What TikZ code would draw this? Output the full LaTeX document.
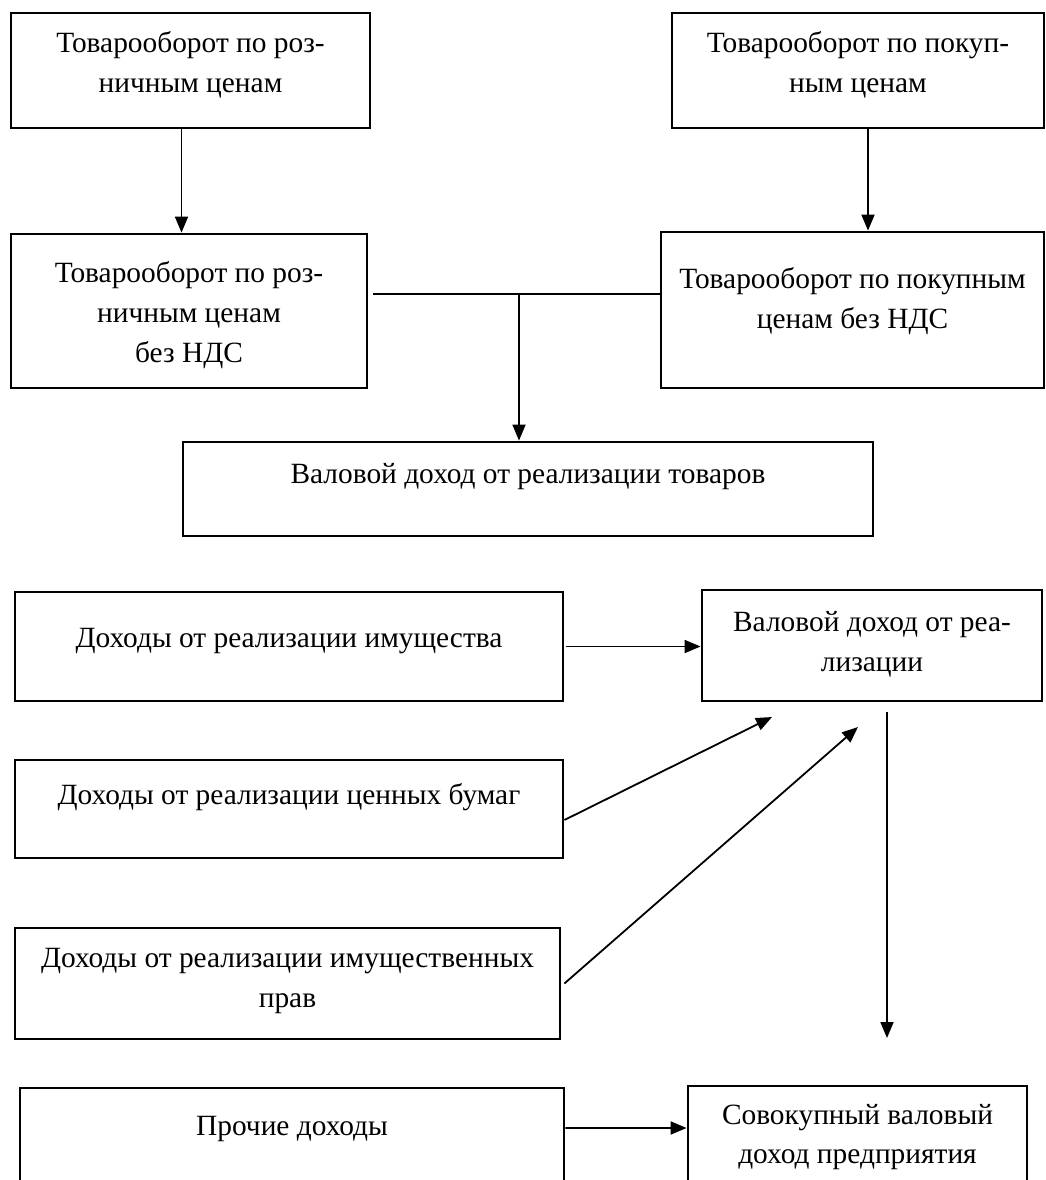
\documentclass[tikz,border=0pt]{standalone}
\usepackage{fontspec}
\setmainfont{Liberation Serif}
\usetikzlibrary{arrows.meta}
\tikzset{
  box/.style={draw=black,line width=2.8bp,inner sep=0bp},
  boxtext/.style={font=\fontsize{29.5}{40}\selectfont,align=center,inner sep=0bp},
  link/.style={draw=black,line width=1.8bp},
  arr/.style={link,-{Triangle[length=16bp,width=13bp]}},
}
% name, left, top, right, bottom, text y, text
\newcommand{\figbox}[7]{
  \node[box,minimum width={(#4-#2)*1bp},minimum height={(#5-#3)*1bp}]
    (#1) at ({(#2+#4)/2},{(#3+#5)/2}) {};
  \node[boxtext] (#1-t) at ({(#2+#4)/2},#6+3) {#7};
}

\begin{document}
\begin{tikzpicture}[x=1bp,y=-1bp]
  \useasboundingbox (0,0) rectangle (1046,1180);
  \fill[white] (0,0) rectangle (1046,1180);

  % turnover and gross income from goods
  \figbox{retail}{11}{13}{370}{128}{62}{Товарооборот по роз-\\ничным ценам}
  \figbox{purchase}{672}{13}{1044}{128}{62}{Товарооборот по покуп-\\ным ценам}
  \figbox{retailnet}{11}{234}{367}{388}{312}{Товарооборот по роз-\\ничным ценам\\без НДС}
  \figbox{purchasenet}{661}{232}{1044}{388}{298}{Товарооборот по покупным\\ценам без НДС}
  \figbox{goods}{183}{442}{873}{536}{474}{Валовой доход от реализации товаров}

  \draw[arr] ([xshift=-9bp]retail.south) -- ([xshift=-9bp]retail.south |- retailnet.north);
  \draw[arr] ([xshift=10bp]purchase.south) -- ([xshift=10bp]purchase.south |- purchasenet.north);
  \coordinate (joinl) at (373,294);
  \coordinate (join) at (519,294);
  \draw[link] (joinl) -- (joinl -| purchasenet.west);
  \draw[arr] (join) -- (join |- goods.north);

  % income sources
  \figbox{property}{15}{592}{563}{701}{638}{Доходы от реализации имущества}
  \figbox{sales}{702}{590}{1042}{701}{641}{Валовой доход от реа-\\лизации}
  \figbox{securities}{15}{760}{563}{858}{794}{Доходы от реализации ценных бумаг}
  \figbox{rights}{15}{928}{560}{1039}{978}{Доходы от реализации имущественных\\прав}
  \figbox{other}{20}{1088}{564}{1200}{1126}{Прочие доходы}
  \figbox{total}{688}{1086}{1027}{1200}{1134}{Совокупный валовый\\доход предприятия}

  \coordinate (tip1) at (772,717);
  \coordinate (tip2) at (858,727);
  \coordinate (down1) at (887,712);
  \coordinate (down2) at (887,1038);
  \draw[arr] ([xshift=2bp]property.east) -- (property.east -| sales.west);
  \draw[arr] ([yshift=-11bp]securities.east) -- (tip1);
  \draw[arr] ([xshift=3bp]rights.east) -- (tip2);
  \draw[arr] (down1) -- (down2);
  \draw[arr] ([yshift=16bp]other.east) -- ([yshift=15bp]total.west);
\end{tikzpicture}
\end{document}
